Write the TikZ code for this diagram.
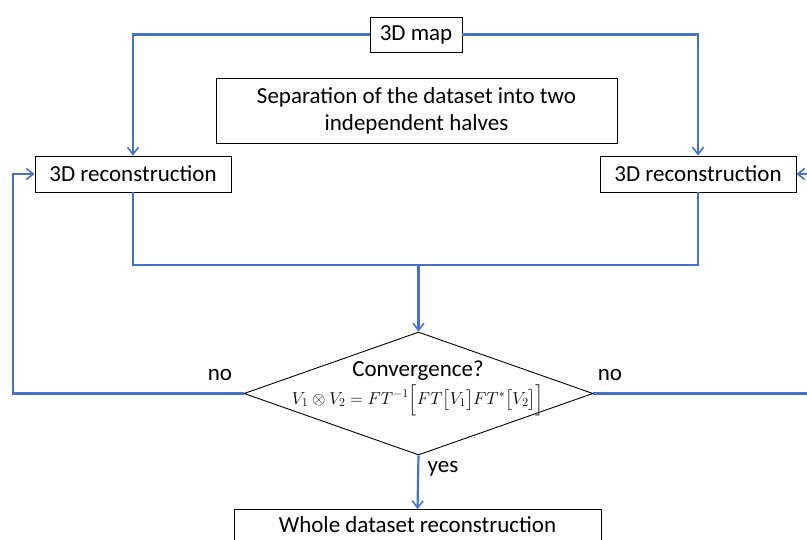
\documentclass[tikz,border=0pt]{standalone}
\usepackage{amsmath}
\usepackage{fontspec}
\setmainfont{Carlito}
\usetikzlibrary{arrows.meta,shapes.geometric}
\definecolor{lineblue}{RGB}{68,114,196}
\begin{document}
\begin{tikzpicture}[x=1pt,y=-1pt,
  box/.style={draw=black, line width=0.9pt, inner sep=0pt, font=\fontsize{23}{27}\selectfont, align=center},
  conn/.style={draw=lineblue, line width=2.2pt},
  arr/.style={conn, -{Straight Barb[length=7pt,width=11pt,line width=1.6pt]}},
  lab/.style={font=\fontsize{23}{27}\selectfont}]
\clip (0,0) rectangle (807,539);
\node[box, minimum width=92pt, minimum height=35pt] (map) at (416,34.5) {3D map};
\node[box, minimum width=401pt, minimum height=65pt] (sep) at (416.5,110.5) {Separation of the dataset into two\\independent halves};
\node[box, minimum width=196pt, minimum height=36pt] (rl) at (133,174) {3D reconstruction};
\node[box, minimum width=196pt, minimum height=36pt] (rr) at (698,174) {3D reconstruction};
\node[diamond, draw=black, line width=0.9pt, minimum width=349pt, minimum height=123pt, inner sep=0pt] (dia) at (418.5,393.5) {};
\node[lab, anchor=center, inner sep=0pt, align=center] (conv) at (418,388) {Convergence?\\[1pt]{\fontsize{18}{22}\selectfont$V_1\otimes V_2 = FT^{-1}\Bigl[FT\bigl[V_1\bigr]FT^{*}\bigl[V_2\bigr]\Bigr]$}};
\node[box, minimum width=367pt, minimum height=50pt, anchor=north] (whole) at (417.5,509) {};
\node[lab] (wt) at (417.5,525) {Whole dataset reconstruction};
\node[lab] (nol) at (220,375) {no};
\node[lab] (nor) at (610,375) {no};
\node[lab] (yes) at (443,469) {yes};
\coordinate (j) at (418.5,265);
\coordinate (ll) at (13,174);
\coordinate (rc) at (815,174);
\draw[arr] (map.west) -| (rl.north);
\draw[arr] (map.east) -| (rr.north);
\draw[conn] (rl.south) |- (j) -| (rr.south);
\draw[arr] (j) -- (dia.north);
\draw[arr] (dia.west) -| (ll) -- (rl.west);
\draw[arr] (dia.east) -| (rc) -- (rr.east);
\draw[arr] (dia.south) -- (whole.north);
\end{tikzpicture}
\end{document}
